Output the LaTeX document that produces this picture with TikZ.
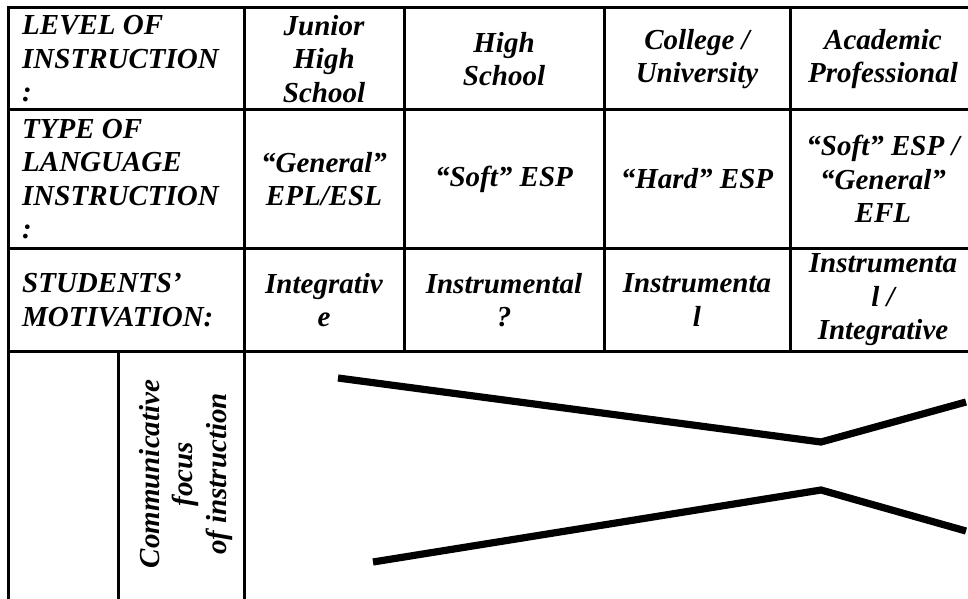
\documentclass[tikz,border=0pt]{standalone}
\usepackage{fontspec}
\setmainfont{Liberation Serif}
\usetikzlibrary{positioning}

\begin{document}
\begin{tikzpicture}[x=1pt,y=-1pt,on grid,node distance=121pt,
  font=\fontsize{29}{33.5}\selectfont\bfseries\itshape]
  \useasboundingbox (0,0) rectangle (968,598);
  \clip (0,0) rectangle (968,598);

\tikzset{rule/.style={line width=3pt,line cap=rect}}
\tikzset{cell/.style={align=center,inner sep=0pt}}
\tikzset{rowhead/.style={align=left,inner sep=0pt,anchor=west}}
\tikzset{trend/.style={line width=7.2pt}}

  % table rules
  \foreach \y in {7,109,248,351}
    \draw[rule] (8,\y) -- (990,\y);
  \foreach \x in {8,244}
    \draw[rule] (\x,7) -- (\x,620);
  \foreach \x in {404,604,790}
    \draw[rule] (\x,7) -- (\x,351);
  \draw[rule] (118,351) -- (118,620);

  % row heads
  \node[rowhead] (level)  at (22,59)    {LEVEL OF\\INSTRUCTION\\:};
  \node[rowhead] (type)   at (22,179)   {TYPE OF\\LANGUAGE\\INSTRUCTION\\:};
  \node[rowhead] (motive) at (22,300)   {STUDENTS’\\MOTIVATION:};

  % columns
  \node[cell] (junior)   at (324,59)               {Junior\\High\\School};
  \node[cell] (high)     [right=180pt of junior]   {High\\School};
  \node[cell] (college)  [right=193pt of high]     {College /\\University};
  \node[cell] (academic) [right=186pt of college]  {Academic\\Professional};

  \node[cell] (general)  [below=120pt of junior]   {“General”\\EPL/ESL};
  \node[cell] (softesp)  [below=120pt of high]     {“Soft” ESP};
  \node[cell] (hardesp)  [below=120pt of college]  {“Hard” ESP};
  \node[cell] (mixed)    [below=120pt of academic] {“Soft” ESP /\\“General”\\EFL};

  \node[cell] (integ)    [below=of general]  {Integrativ\\e};
  \node[cell] (instr)    [below=of softesp]  {Instrumental\\?};
  \node[cell] (instrb)   [below=of hardesp]  {Instrumenta\\l};
  \node[cell] (instrc)   [below=of mixed]    {Instrumenta\\l /\\Integrative};

  \node[cell,rotate=90] (focus) at (186,474) {Communicative\\focus\\of instruction};

  % trend lines
  \coordinate (upA) at (338,378);
  \coordinate (upB) at (821,442);
  \coordinate (upC) at (966,402);
  \coordinate (loA) at (373,562);
  \coordinate (loB) at (821,490);
  \coordinate (loC) at (966,531);
  \draw[trend] (upA) -- (upB) -- (upC);
  \draw[trend] (loA) -- (loB) -- (loC);
\end{tikzpicture}
\end{document}
